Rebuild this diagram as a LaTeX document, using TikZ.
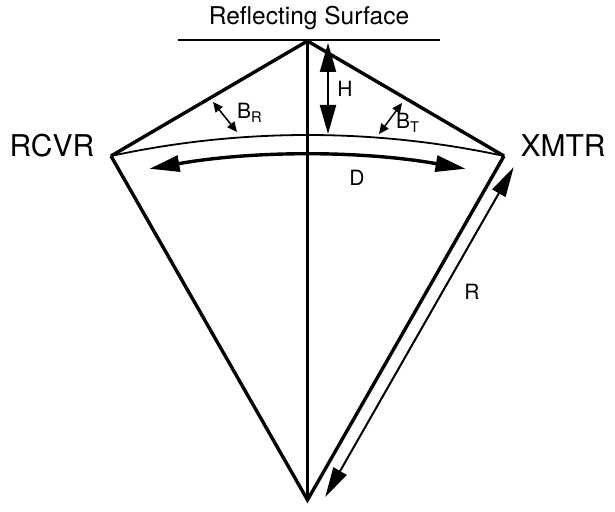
\documentclass[tikz,border=0pt]{standalone}
\usepackage{fontspec}
\setmainfont{TeX Gyre Heros}
\usetikzlibrary{arrows.meta,calc}
\tikzset{
  edge/.style={line width=3.4pt, line join=miter},
  thinedge/.style={line width=1.8pt},
  dbl/.style={{Triangle[length=29pt,width=16pt]}-{Triangle[length=29pt,width=16pt]}},
  smalldbl/.style={line width=1.5pt,{Triangle[length=10pt,width=9pt]}-{Triangle[length=10pt,width=9pt]}},
  lbl/.style={inner sep=0pt, font=\fontsize{21}{24}\selectfont},
  biglbl/.style={inner sep=0pt, font=\fontsize{30}{34}\selectfont},
}
\begin{document}
\begin{tikzpicture}[x=1pt,y=1pt]
\useasboundingbox (0,0) rectangle (615,511);
% points
\coordinate (P) at (307.5,470);
\coordinate (C) at (307.5,11);
\coordinate (L) at (111,355);
\coordinate (X) at (504,355);
\coordinate (s1) at (178,471);
\coordinate (s2) at (440,471);
% reflecting surface
\draw[line width=2pt] (s1) -- (s2);
\node[inner sep=0pt, font=\fontsize{24.5}{28}\selectfont] (surf) at (309,493) {Reflecting Surface};
% earth arc
\draw[thinedge] (L) arc[start angle=102.2, end angle=77.8, radius=930pt];
% triangles
\draw[edge] (L) -- (P) -- (X);
\draw[edge] (L) -- (C) -- (X);
\draw[line width=2.8pt] (P) -- (C);
% D arrow
\coordinate (d1) at (149.5,342.2);
\draw[line width=3.4pt, {Triangle[length=30pt,width=16pt]}-{Triangle[length=30pt,width=16pt]}]
  (d1) arc[start angle=100, end angle=80, radius=910pt];
\node[lbl] (D) at (357,333) {D};
% H arrow
\coordinate (h1) at (328,468);
\coordinate (h2) at (328,377);
\draw[line width=2.2pt, dbl] (h1) -- (h2);
\node[lbl] (H) at (345,422) {H};
% B_R and B_T
\coordinate (br1) at (213,409);
\coordinate (br2) at (237,379);
\draw[smalldbl] (br1) -- (br2);
\node[lbl, anchor=west] (BR) at (237,398) {B\textsubscript{R}};
\coordinate (bt1) at (402,408);
\coordinate (bt2) at (379,377);
\draw[smalldbl] (bt1) -- (bt2);
\node[lbl, anchor=west] (BT) at (396,388) {B\textsubscript{T}};
% R arrow
\coordinate (r1) at (513.7,343.8);
\coordinate (r2) at (325.2,13.9);
\draw[line width=2pt, {Triangle[length=30pt,width=15pt]}-{Triangle[length=30pt,width=15pt]}] (r1) -- (r2);
\node[lbl] (R) at (472,219) {R};
% labels
\node[biglbl] (rcvr) at (52,365) {RCVR};
\node[biglbl] (xmtr) at (563,365) {XMTR};
\end{tikzpicture}
\end{document}
